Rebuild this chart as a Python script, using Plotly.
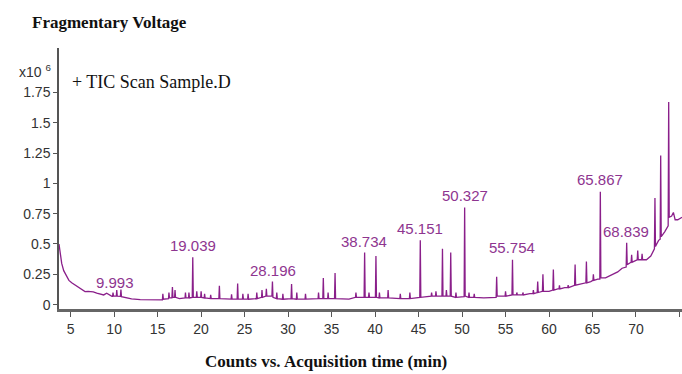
import plotly.graph_objects as go

# Acquisition time (min) and TIC counts (x10^6)
time_min = [
    3.66, 3.8, 3.97, 4.2, 4.54, 4.8, 5.12, 5.6, 6.07, 6.4, 6.65, 7.0, 7.6, 8.0, 8.37, 8.8, 9.14, 9.4, 9.75,
    9.82, 9.87, 9.93, 10.25, 10.3, 10.36, 10.72, 10.78, 10.84, 11.5, 12.0, 13.0, 14.0, 15.0,
    15.55, 15.6, 15.66, 16.25, 16.3, 16.36, 16.64, 16.7, 16.76, 16.95, 17.0, 17.06, 17.5,
    18.15, 18.2, 18.26, 18.55, 18.6, 18.66, 18.98, 19.04, 19.1, 19.45, 19.5, 19.56,
    19.95, 20.0, 20.06, 20.35, 20.4, 20.46, 21.05, 21.1, 21.16, 22.04, 22.1, 22.16,
    23.45, 23.5, 23.56, 24.14, 24.2, 24.26, 24.75, 24.8, 24.86, 25.35, 25.4, 25.46,
    26.35, 26.4, 26.46, 26.95, 27.0, 27.06, 27.45, 27.5, 27.56, 28.14, 28.2, 28.26,
    28.65, 28.7, 28.76, 29.35, 29.4, 29.46, 30.34, 30.4, 30.46, 30.95, 31.0, 31.06,
    31.95, 32.0, 32.06, 33.45, 33.5, 33.56, 33.99, 34.05, 34.11, 34.55, 34.6, 34.66,
    35.34, 35.4, 35.46, 36.2, 37.0, 37.75, 37.8, 37.86, 38.74, 38.8, 38.86, 39.25, 39.3, 39.36,
    40.04, 40.1, 40.16, 40.45, 40.5, 40.56, 41.45, 41.5, 41.56, 42.85, 42.9, 42.96,
    43.95, 44.0, 44.06, 45.14, 45.2, 45.26, 46.45, 46.5, 46.56, 46.95, 47.0, 47.06,
    47.69, 47.75, 47.81, 48.15, 48.2, 48.26, 48.64, 48.7, 48.76, 49.25, 49.3, 49.36,
    50.24, 50.3, 50.36, 50.75, 50.8, 50.86, 51.35, 51.4, 51.46, 52.5, 53.0,
    53.92, 53.98, 54.04, 54.95, 55.0, 55.06, 55.74, 55.8, 55.86, 56.25, 56.3, 56.36,
    56.95, 57.0, 57.06, 57.8, 58.15, 58.2, 58.26, 58.64, 58.7, 58.76, 59.24, 59.3, 59.36,
    60.0, 60.44, 60.5, 60.56, 61.0, 61.15, 61.2, 61.26, 61.8, 62.15, 62.2, 62.26,
    62.94, 63.0, 63.06, 63.6, 64.24, 64.3, 64.36, 64.8, 65.05, 65.1, 65.16, 65.6,
    65.84, 65.9, 65.96, 66.5, 67.0, 67.5, 67.9, 68.4, 68.87, 68.93, 68.99,
    69.44, 69.5, 69.56, 70.14, 70.2, 70.26, 70.65, 70.7, 70.76, 71.2, 71.7, 72.0,
    72.12, 72.18, 72.24, 72.6, 72.78, 72.84, 72.9, 73.3, 73.7, 73.76, 73.82,
    74.1, 74.3, 74.5, 74.8, 75.3,
]
counts_e6 = [
    0.50, 0.40, 0.34, 0.28, 0.23, 0.20, 0.18, 0.155, 0.135, 0.115, 0.107, 0.11, 0.105, 0.095, 0.085, 0.08, 0.094, 0.08, 0.068,
    0.068, 0.10, 0.07, 0.07, 0.12, 0.07, 0.068, 0.125, 0.066, 0.055, 0.048, 0.042, 0.04, 0.038,
    0.04, 0.09, 0.045, 0.05, 0.10, 0.055, 0.055, 0.145, 0.06, 0.06, 0.12, 0.06, 0.05,
    0.055, 0.10, 0.055, 0.055, 0.10, 0.055, 0.06, 0.39, 0.06, 0.06, 0.11, 0.06,
    0.06, 0.11, 0.06, 0.055, 0.09, 0.055, 0.05, 0.08, 0.05, 0.05, 0.155, 0.05,
    0.045, 0.085, 0.045, 0.045, 0.175, 0.045, 0.045, 0.09, 0.045, 0.045, 0.09, 0.045,
    0.05, 0.10, 0.05, 0.06, 0.12, 0.06, 0.07, 0.13, 0.07, 0.07, 0.19, 0.06,
    0.05, 0.10, 0.05, 0.045, 0.09, 0.045, 0.05, 0.17, 0.05, 0.045, 0.10, 0.045,
    0.045, 0.09, 0.045, 0.05, 0.10, 0.05, 0.05, 0.22, 0.05, 0.05, 0.10, 0.05,
    0.05, 0.26, 0.05, 0.045, 0.045, 0.06, 0.10, 0.06, 0.06, 0.43, 0.06, 0.06, 0.10, 0.06,
    0.06, 0.40, 0.06, 0.055, 0.10, 0.055, 0.055, 0.12, 0.055, 0.05, 0.09, 0.05,
    0.05, 0.10, 0.05, 0.06, 0.53, 0.06, 0.07, 0.10, 0.07, 0.07, 0.11, 0.07,
    0.07, 0.46, 0.07, 0.07, 0.12, 0.07, 0.07, 0.43, 0.07, 0.06, 0.10, 0.06,
    0.065, 0.80, 0.07, 0.06, 0.10, 0.06, 0.06, 0.09, 0.06, 0.055, 0.055,
    0.06, 0.23, 0.07, 0.07, 0.11, 0.07, 0.08, 0.37, 0.08, 0.08, 0.10, 0.08,
    0.08, 0.10, 0.08, 0.09, 0.09, 0.12, 0.09, 0.10, 0.19, 0.10, 0.11, 0.25, 0.11,
    0.11, 0.12, 0.29, 0.12, 0.13, 0.13, 0.16, 0.13, 0.14, 0.14, 0.16, 0.14,
    0.16, 0.33, 0.16, 0.17, 0.18, 0.355, 0.18, 0.19, 0.20, 0.25, 0.20, 0.21,
    0.21, 0.93, 0.22, 0.22, 0.24, 0.26, 0.27, 0.30, 0.31, 0.51, 0.33,
    0.35, 0.41, 0.35, 0.37, 0.445, 0.37, 0.37, 0.42, 0.37, 0.37, 0.40, 0.45,
    0.46, 0.88, 0.48, 0.53, 0.54, 1.23, 0.56, 0.60, 0.65, 1.67, 0.72,
    0.73, 0.76, 0.70, 0.70, 0.72,
]

# Labelled peaks
peak_labels = ["9.993", "19.039", "28.196", "38.734", "45.151", "50.327", "55.754", "65.867", "68.839"]
peak_label_time = [10.1, 19.1, 28.23, 38.73, 45.17, 50.33, 55.78, 65.83, 68.82]
peak_label_height = [0.18, 0.487, 0.28, 0.52, 0.63, 0.90, 0.47, 1.034, 0.60]

y_tick_vals = [0, 0.25, 0.5, 0.75, 1, 1.25, 1.5, 1.75]
y_tick_text = ["0", "0.25", "0.5", "0.75", "1", "1.25", "1.5", "1.75"]
x_tick_vals = [5, 10, 15, 20, 25, 30, 35, 40, 45, 50, 55, 60, 65, 70, 75]

LINE = "#8a1f8a"
LABEL = "#8e3590"
SANS = "Liberation Sans Narrow, Liberation Sans, Arial"
TICKFONT = dict(family=SANS, size=14, color="#333333")
SERIF = "Liberation Serif, Times New Roman, serif"

# plot area in pixels: left 59, right 682, top 48, bottom 309
def px_x(px):
    return (px - 59) / 623.0

def px_y(py):
    return (309 - py) / 261.0

fig = go.Figure()
fig.add_trace(go.Scatter(
    x=time_min, y=counts_e6, mode="lines",
    line=dict(color=LINE, width=1.3), hoverinfo="x+y", showlegend=False,
))

for lbl, t, h in zip(peak_labels, peak_label_time, peak_label_height):
    fig.add_annotation(x=t, y=h, text=lbl, showarrow=False, xref="x", yref="y",
                       font=dict(family=SANS, size=15, color=LABEL))

fig.add_annotation(x=px_x(30), y=px_y(22), xref="paper", yref="paper", xanchor="left", yanchor="middle",
                   text="<b>Fragmentary Voltage</b>", showarrow=False,
                   font=dict(family=SERIF, size=17, color="#111111"))
fig.add_annotation(x=px_x(17), y=px_y(71), xref="paper", yref="paper", xanchor="left", yanchor="middle",
                   text="x10 <sup>6</sup>", showarrow=False, font=TICKFONT)
fig.add_annotation(x=px_x(70), y=px_y(82), xref="paper", yref="paper", xanchor="left", yanchor="middle",
                   text="+ TIC Scan Sample.D", showarrow=False,
                   font=dict(family=SERIF, size=18, color="#111111"))
fig.add_annotation(x=px_x(326), y=px_y(361), xref="paper", yref="paper", xanchor="center", yanchor="middle",
                   text="<b>Counts vs. Acquisition time (min)</b>", showarrow=False,
                   font=dict(family=SERIF, size=17, color="#111111"))

fig.update_layout(
    width=682, height=374,
    margin=dict(l=59, r=0, t=48, b=65),
    paper_bgcolor="white", plot_bgcolor="white",
    xaxis=dict(range=[3.66, 75.29], tickvals=x_tick_vals, ticks="outside", ticklen=5, tickwidth=1,
               tickcolor="#555555", showline=True, linecolor="#666666", linewidth=2.5,
               showgrid=False, zeroline=False, tickfont=TICKFONT),
    yaxis=dict(range=[-0.036, 2.116], tickvals=y_tick_vals, ticktext=y_tick_text, ticks="outside",
               ticklen=4, tickwidth=1, tickcolor="#555555", showline=True, linecolor="#555555",
               linewidth=1.5, showgrid=False, zeroline=False, tickfont=TICKFONT),
)

fig.write_html("out.html", config={"displayModeBar": False},
               post_script="document.body.style.margin='0';document.body.style.overflow='hidden';")
